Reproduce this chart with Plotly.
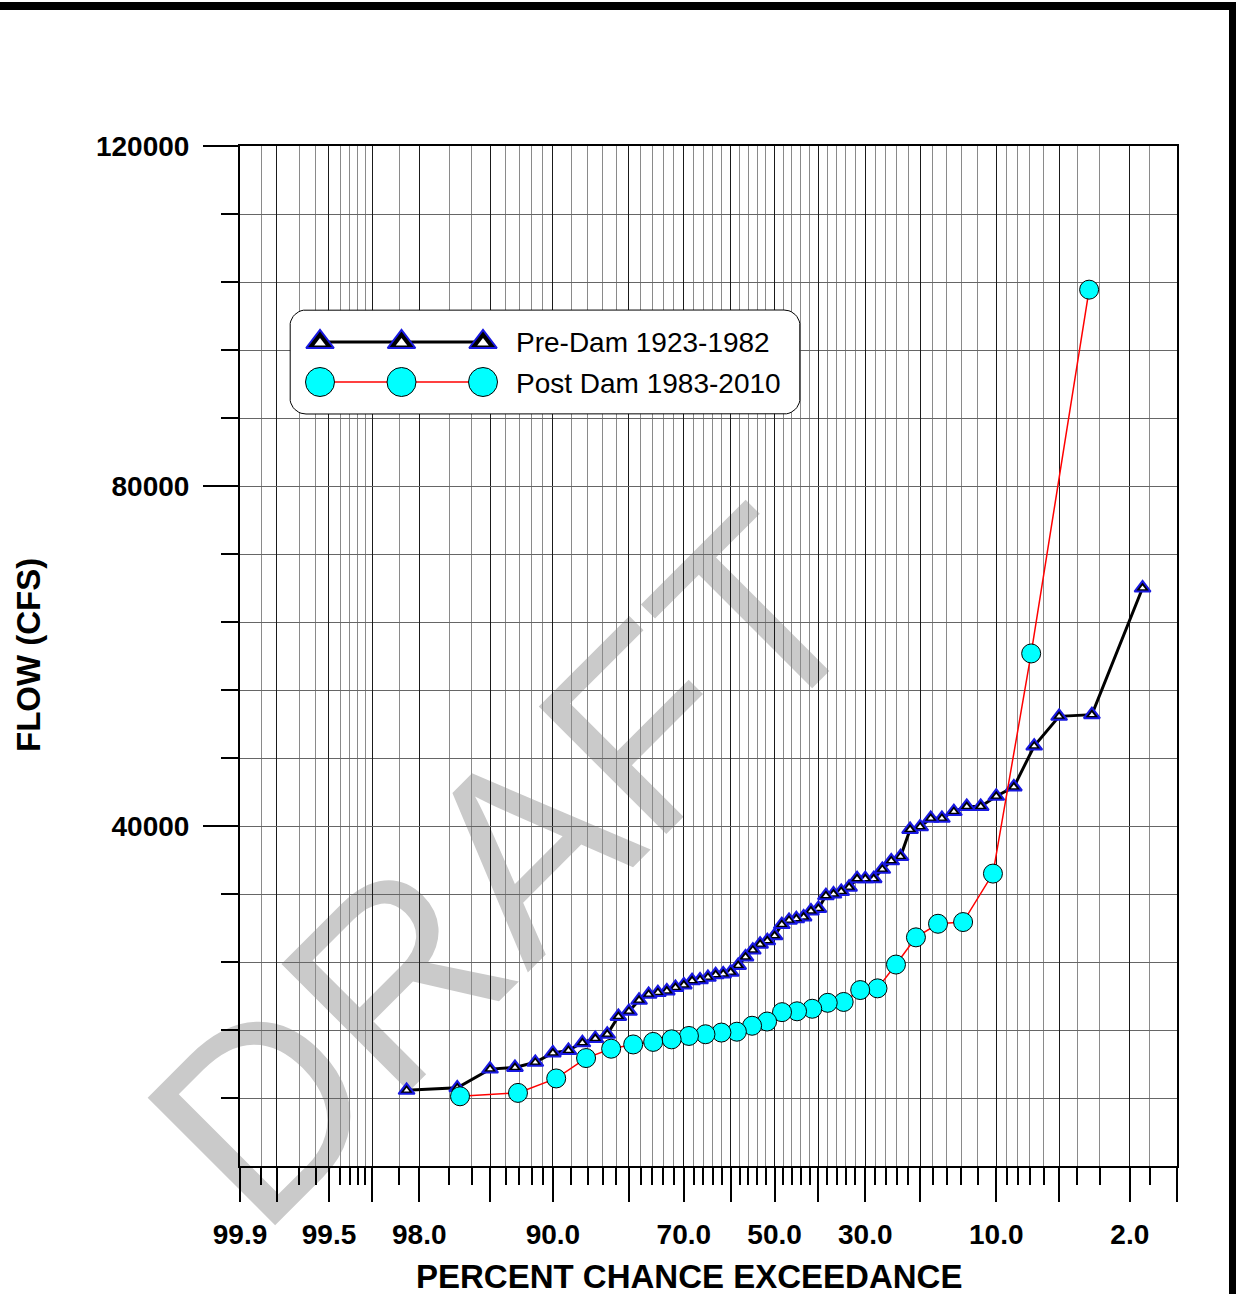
import math
from statistics import NormalDist
import plotly.graph_objects as go

# percent chance exceedance of each annual peak (plotting positions)
pre_pct = [1.67, 3.33, 5.00, 6.67, 8.33, 10.00, 11.67, 13.33, 15.00, 16.67,
           18.33, 20.00, 21.67, 23.33, 25.00, 26.67, 28.33, 30.00, 31.67, 33.33,
           35.00, 36.67, 38.33, 40.00, 41.67, 43.33, 45.00, 46.67, 48.33, 50.00,
           51.67, 53.33, 55.00, 56.67, 58.33, 60.00, 61.67, 63.33, 65.00, 66.67,
           68.33, 70.00, 71.67, 73.33, 75.00, 76.67, 78.33, 80.00, 81.67, 83.33,
           85.00, 86.67, 88.33, 90.00, 91.67, 93.33, 95.00, 96.67, 98.33]
pre_flow = [68000, 53100, 52900, 49400, 44600, 43500, 42300, 42300, 41700, 40900,
            40900, 39900, 39600, 36400, 35900, 34900, 33800, 33800, 33800, 32800,
            32300, 32000, 31800, 30300, 30000, 29300, 29100, 28900, 28400, 27100,
            26500, 26100, 25400, 24600, 23600, 22800, 22600, 22500, 22200, 21900,
            21800, 21300, 21000, 20600, 20400, 20200, 19500, 18200, 17600, 15500,
            15000, 14500, 13600, 13300, 12200, 11600, 11400, 9200, 8900]

post_pct = [3.45, 6.90, 10.34, 13.79, 17.24, 20.69, 24.14, 27.59, 31.03, 34.48,
            37.93, 41.38, 44.83, 48.28, 51.72, 55.17, 58.62, 62.07, 65.52, 68.97,
            72.41, 75.86, 79.31, 82.76, 86.21, 89.66, 93.10, 96.55]
post_flow = [103100, 60300, 34400, 28700, 28500, 26900, 23700, 20900, 20700, 19300,
             19200, 18500, 18200, 18100, 17000, 16500, 15800, 15700, 15500, 15300,
             14900, 14600, 14300, 13800, 12700, 10300, 8600, 8200]

# probability axis
major_pct = [99.9, 99.8, 99.5, 99, 98, 95, 90, 80, 70, 60, 50, 40, 30, 20, 10, 5, 2, 1]
minor_pct = [99.85, 99.7, 99.6, 99.4, 99.3, 99.2, 99.1, 98.5, 97, 96, 94, 93, 92, 91,
             88, 86, 84, 82, 78, 76, 74, 72, 68, 66, 64, 62, 58, 56, 54, 52,
             48, 46, 44, 42, 38, 36, 34, 32, 28, 26, 24, 22, 18, 16, 14, 12,
             9, 8, 7, 6, 4, 3, 1.5]
x_labels = {99.9: '99.9', 99.5: '99.5', 98: '98.0', 90: '90.0', 70: '70.0',
            50: '50.0', 30: '30.0', 10: '10.0', 2: '2.0'}

y_major = [40000, 80000, 120000]
y_minor = [8000, 16000, 24000, 32000, 48000, 56000, 64000, 72000, 88000, 96000, 104000, 112000]

nd = NormalDist()


def z(p):
    # percent exceedance -> standard normal deviate
    return nd.inv_cdf(1 - p / 100.0)


# plot area in pixels
L, R, T, B = 240, 1177, 146, 1166


def px(x):
    return (x - L) / (R - L)


def py(y):
    return (B - y) / (B - T)


FONT = 'Liberation Sans, Arial, sans-serif'
BLUE = 'rgb(25,25,225)'

fig = go.Figure()

# Pre-Dam: black line, blue/black triangles with a white eye
fig.add_trace(go.Scatter(
    x=[z(p) for p in pre_pct], y=pre_flow, mode='lines+markers',
    line=dict(color='black', width=3),
    marker=dict(symbol='triangle-up', size=14, color='black', line=dict(color=BLUE, width=2)),
    showlegend=False, cliponaxis=False))
fig.add_trace(go.Scatter(
    x=[z(p) for p in pre_pct], y=pre_flow, mode='markers',
    marker=dict(symbol='triangle-up', size=5, color='white', line=dict(width=0)),
    showlegend=False, cliponaxis=False))

# Post Dam: red line, cyan circles
fig.add_trace(go.Scatter(
    x=[z(p) for p in post_pct], y=post_flow, mode='lines+markers',
    line=dict(color='red', width=1.5),
    marker=dict(symbol='circle', size=19, color='#00FFFF', line=dict(color='black', width=1)),
    showlegend=False, cliponaxis=False))

# hand made legend on a pixel-scaled overlay axis
lx0, lx1, ly0, ly1, rad = 290, 800, 310, 414, 16
box_x, box_y = [], []
for cx, cy, a0 in [(lx1 - rad, ly0 + rad, -90), (lx1 - rad, ly1 - rad, 0),
                   (lx0 + rad, ly1 - rad, 90), (lx0 + rad, ly0 + rad, 180)]:
    for k in range(10):
        a = math.radians(a0 + 9 * k)
        box_x.append(cx + rad * math.cos(a))
        box_y.append(cy + rad * math.sin(a))
box_x.append(box_x[0])
box_y.append(box_y[0])
fig.add_trace(go.Scatter(x=box_x, y=box_y, xaxis='x2', yaxis='y2', mode='lines',
                         fill='toself', fillcolor='white', line=dict(color='black', width=1),
                         showlegend=False, hoverinfo='skip'))
leg_x = [320, 401.5, 483]
fig.add_trace(go.Scatter(x=leg_x, y=[342] * 3, xaxis='x2', yaxis='y2', mode='lines+markers',
                         line=dict(color='black', width=3),
                         marker=dict(symbol='triangle-up', size=24, color='black',
                                     line=dict(color=BLUE, width=2)),
                         showlegend=False, hoverinfo='skip'))
fig.add_trace(go.Scatter(x=leg_x, y=[343] * 3, xaxis='x2', yaxis='y2', mode='markers',
                         marker=dict(symbol='triangle-up', size=10, color='white', line=dict(width=0)),
                         showlegend=False, hoverinfo='skip'))
fig.add_trace(go.Scatter(x=leg_x, y=[382] * 3, xaxis='x2', yaxis='y2', mode='lines+markers',
                         line=dict(color='red', width=1.5),
                         marker=dict(symbol='circle', size=29, color='#00FFFF',
                                     line=dict(color='black', width=1)),
                         showlegend=False, hoverinfo='skip'))

annotations = [
    dict(xref='x2', yref='y2', x=514, y=342, text='Pre-Dam 1923-1982', showarrow=False,
         xanchor='left', yanchor='middle', font=dict(family=FONT, size=28, color='black')),
    dict(xref='x2', yref='y2', x=514, y=383, text='Post Dam 1983-2010', showarrow=False,
         xanchor='left', yanchor='middle', font=dict(family=FONT, size=28, color='black')),
    dict(xref='paper', yref='paper', x=px(689), y=py(1276), text='<b>PERCENT CHANCE EXCEEDANCE</b>',
         showarrow=False, xanchor='center', yanchor='middle',
         font=dict(family=FONT, size=33, color='black')),
    dict(xref='paper', yref='paper', x=px(28), y=py(655), text='<b>FLOW (CFS)</b>', textangle=-90,
         showarrow=False, xanchor='center', yanchor='middle',
         font=dict(family=FONT, size=33, color='black')),
]

shapes = [
    # DRAFT watermark, under the grid
    dict(type='rect', xref='paper', yref='paper', x0=px(437), x1=px(537), y0=py(900), y1=py(800),
         line=dict(width=0), fillcolor='rgba(0,0,0,0)', layer='below',
         label=dict(text='DRAFT', textangle=-45, textposition='middle center',
                    font=dict(family=FONT, size=262, color='#cacaca'))),
    # thick page frame (top and right)
    dict(type='rect', xref='paper', yref='paper', x0=px(-5), x1=px(1236), y0=py(10), y1=py(2),
         line=dict(width=0), fillcolor='black', layer='above'),
    dict(type='rect', xref='paper', yref='paper', x0=px(1229), x1=px(1236), y0=py(1300), y1=py(2),
         line=dict(width=0), fillcolor='black', layer='above'),
]

fig.update_layout(
    width=1238, height=1294,
    margin=dict(l=L, r=1238 - R, t=T, b=1294 - B),
    paper_bgcolor='white', plot_bgcolor='rgba(0,0,0,0)',
    font=dict(family=FONT, color='black'),
    showlegend=False,
    annotations=annotations, shapes=shapes,
    xaxis=dict(
        range=[z(99.9), z(1)], tickmode='array',
        tickvals=[z(p) for p in major_pct],
        ticktext=['<b>%s</b>' % x_labels.get(p, '') for p in major_pct],
        ticks='outside', ticklen=34, tickwidth=2, tickcolor='black',
        tickfont=dict(family=FONT, size=28, color='black'), ticklabelstandoff=8,
        showgrid=True, gridcolor='#1a1a1a', gridwidth=1,
        showline=True, linecolor='black', linewidth=2, mirror=True,
        zeroline=False,
        minor=dict(tickmode='array', tickvals=[z(p) for p in minor_pct],
                   ticks='outside', ticklen=17, tickwidth=1.5, tickcolor='black',
                   showgrid=True, gridcolor='#8a8a8a', gridwidth=1),
    ),
    yaxis=dict(
        range=[0, 120000], tickmode='array', tickvals=y_major,
        ticktext=['<b>%d</b>' % v for v in y_major],
        ticks='outside', ticklen=35, tickwidth=2, tickcolor='black',
        tickfont=dict(family=FONT, size=28, color='black'), ticklabelstandoff=8,
        showgrid=True, gridcolor='#666666', gridwidth=1,
        showline=True, linecolor='black', linewidth=2, mirror=True,
        zeroline=False,
        minor=dict(tickmode='array', tickvals=y_minor,
                   ticks='outside', ticklen=17, tickwidth=1.5, tickcolor='black',
                   showgrid=True, gridcolor='#666666', gridwidth=1),
    ),
    xaxis2=dict(overlaying='x', range=[L, R], visible=False, fixedrange=True),
    yaxis2=dict(overlaying='y', range=[B, T], visible=False, fixedrange=True),
)

# page default margin would shift the 1238x1294 figure off the window
fig.write_html("out.html", config={'displayModeBar': False},
               post_script="document.body.style.margin='0';")
